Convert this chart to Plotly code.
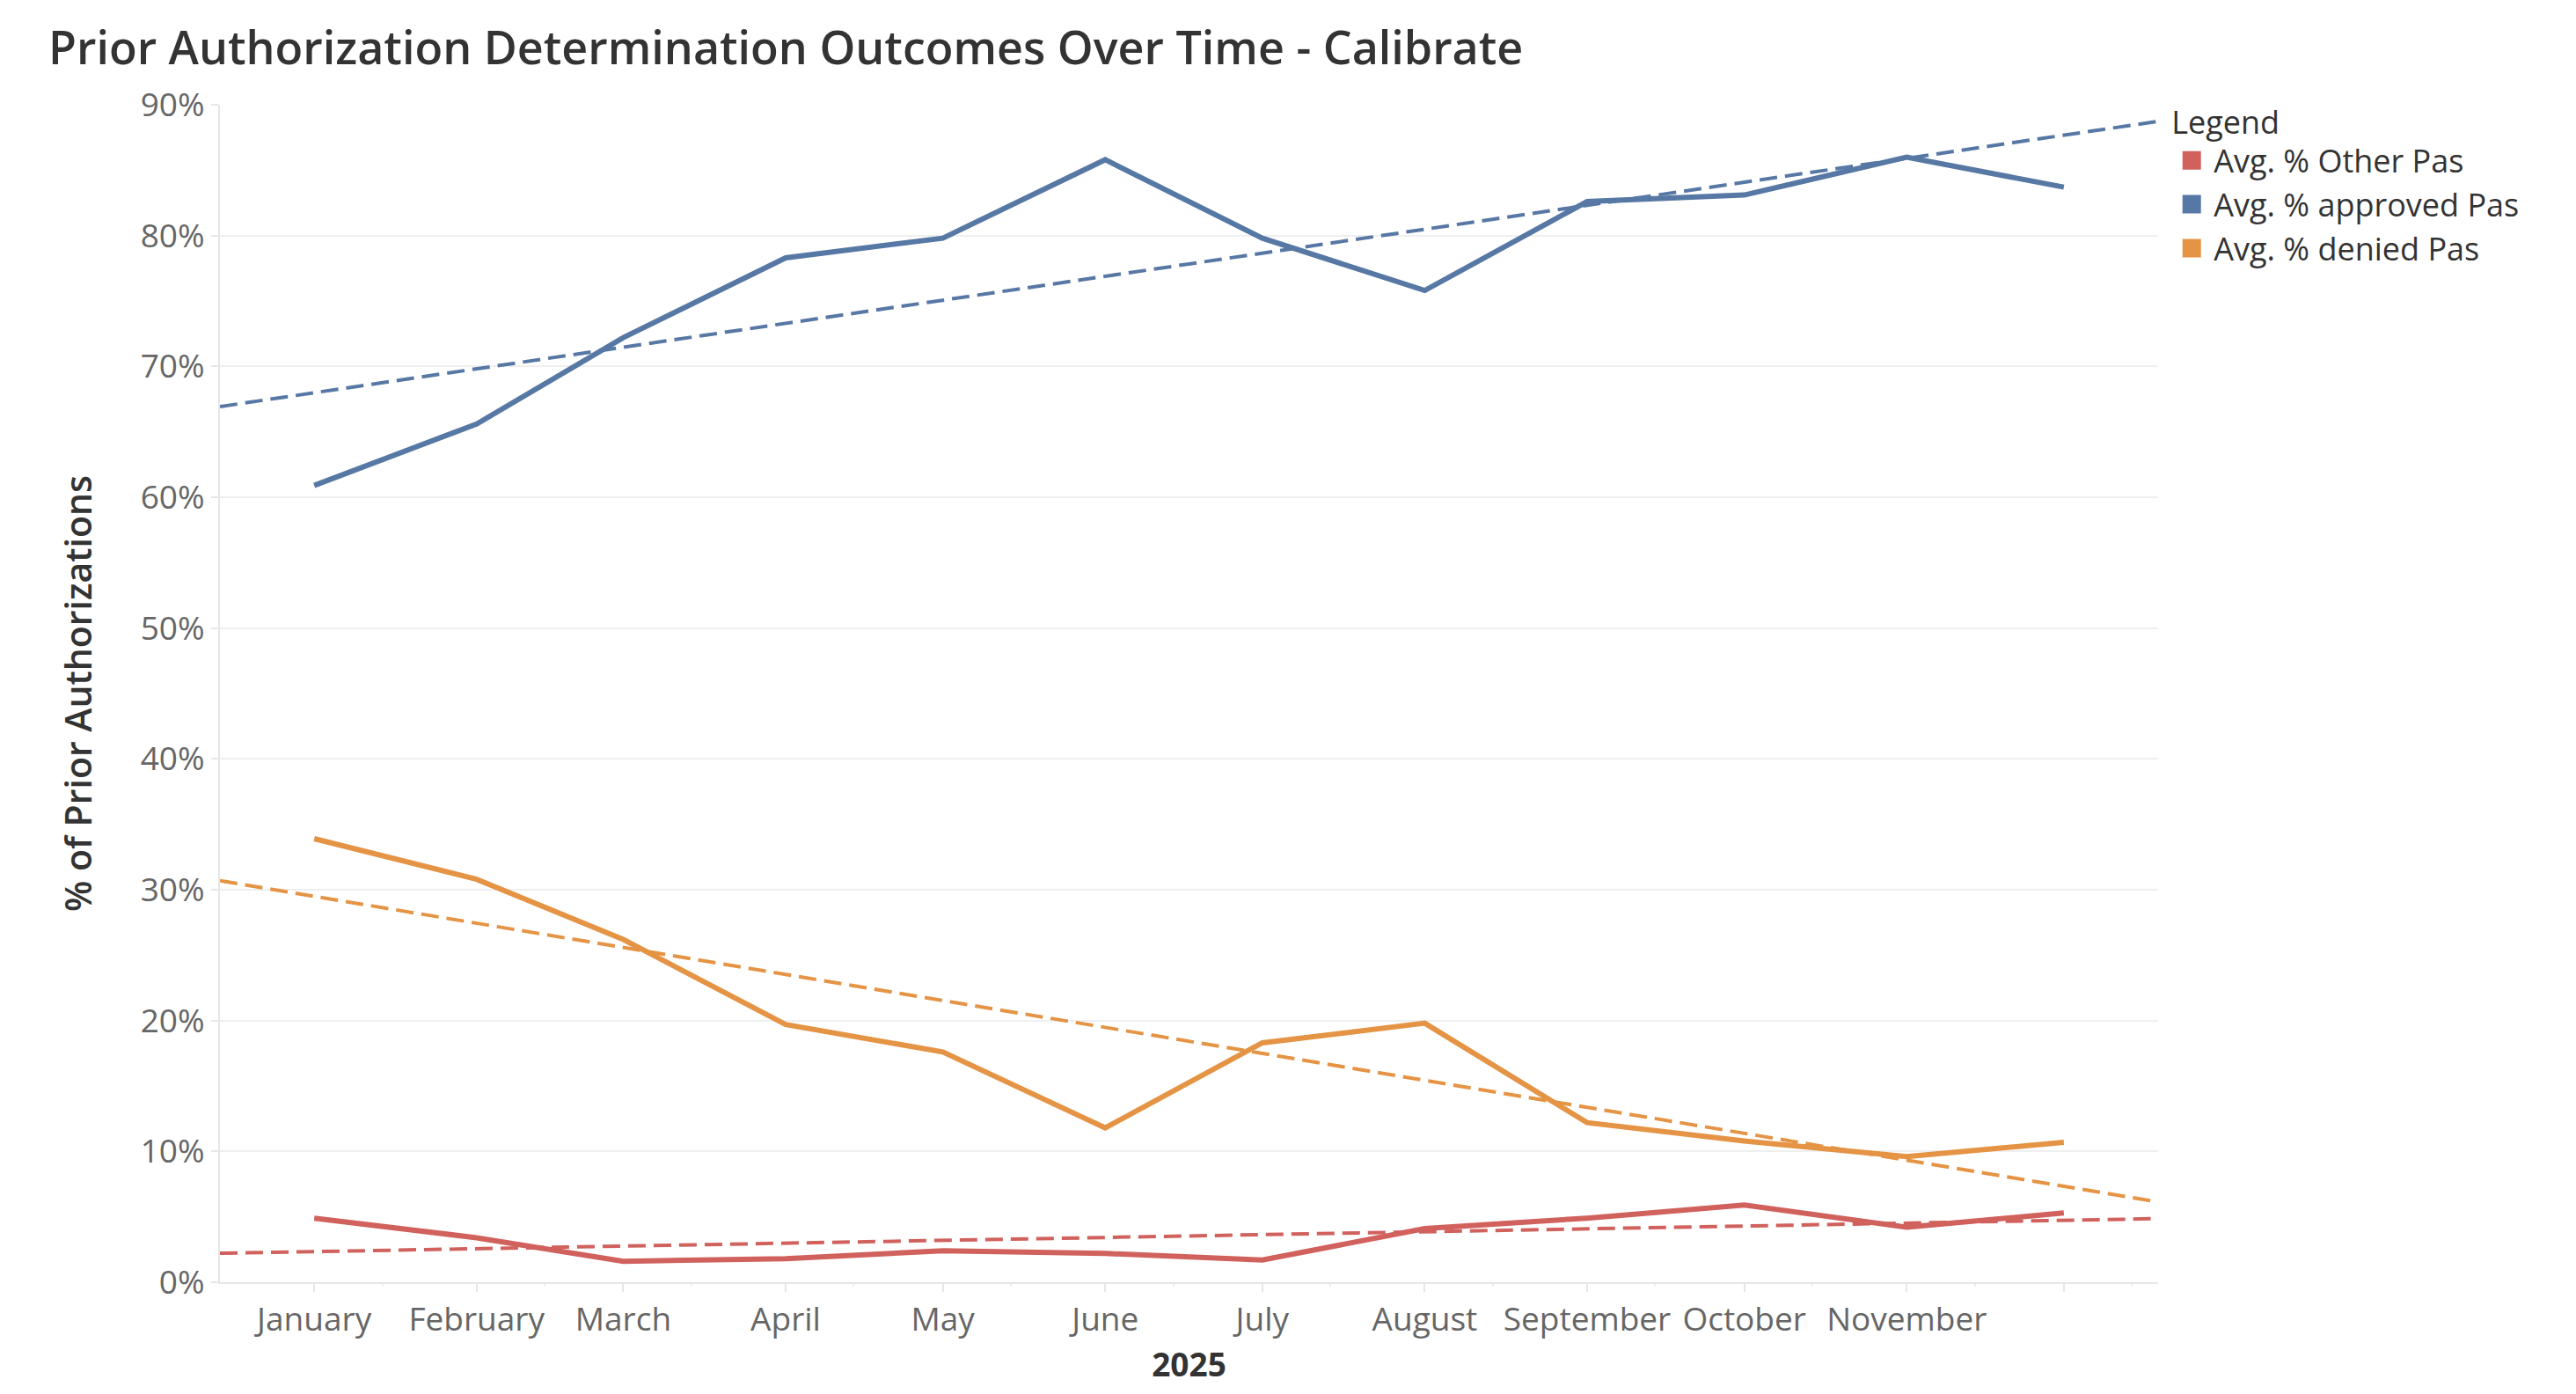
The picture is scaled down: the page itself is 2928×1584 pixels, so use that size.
import numpy as np
import pandas as pd
import plotly.graph_objects as go

# ---------------- data ----------------
month_names = ["January", "February", "March", "April", "May", "June", "July",
               "August", "September", "October", "November", ""]
month_starts = pd.date_range("2025-01-01", periods=12, freq="MS")

pct_other = [4.9, 3.4, 1.6, 1.8, 2.4, 2.2, 1.7, 4.1, 4.9, 5.9, 4.2, 5.3]
pct_approved = [60.9, 65.6, 72.2, 78.3, 79.8, 85.8, 79.8, 75.8, 82.6, 83.1, 86.0, 83.7]
pct_denied = [33.9, 30.8, 26.2, 19.7, 17.6, 11.8, 18.3, 19.8, 12.2, 10.8, 9.6, 10.7]

series_names = ["Avg. % Other Pas", "Avg. % approved Pas", "Avg. % denied Pas"]
series_values = [pct_other, pct_approved, pct_denied]
series_colors = ["#d1615d", "#5778a4", "#e49444"]

x_range = [pd.Timestamp("2024-12-14"), pd.Timestamp("2025-12-19")]
y_ticks = [0, 10, 20, 30, 40, 50, 60, 70, 80, 90]
y_tick_labels = ["0%", "10%", "20%", "30%", "40%", "50%", "60%", "70%", "80%", "90%"]

# ---------------- figure ----------------
FONT = "Open Sans"
fig = go.Figure()

day0 = pd.Timestamp("2025-01-01")
xd = np.array([(d - day0).days for d in month_starts], dtype=float)
rd = np.array([(d - day0).days for d in x_range], dtype=float)

for name, vals, col in zip(series_names, series_values, series_colors):
    # linear trend (least squares over the dates), spanning the full axis
    slope, icpt = np.polyfit(xd, np.array(vals, dtype=float), 1)
    fig.add_trace(go.Scatter(
        x=x_range, y=slope * rd + icpt, mode="lines",
        line=dict(color=col, width=4, dash="20px,9px"),
        showlegend=False, hoverinfo="skip"))

for name, vals, col in zip(series_names, series_values, series_colors):
    fig.add_trace(go.Scatter(
        x=month_starts, y=vals, mode="lines", name=name,
        line=dict(color=col, width=6), showlegend=False))

# legend-only swatches
for name, col in zip(series_names, series_colors):
    fig.add_trace(go.Scatter(
        x=[None], y=[None], mode="markers", name=name,
        marker=dict(symbol="square", size=16, color=col,
                    line=dict(color=col, width=5))))

grid = "#efefef"
fig.update_layout(
    width=2928, height=1584,
    margin=dict(l=242, r=483, t=111, b=135, autoexpand=False),
    paper_bgcolor="white", plot_bgcolor="white",
    font=dict(family=FONT, color="#333333", size=36),
    title=dict(text="Prior Authorization Determination Outcomes Over Time - Calibrate",
               font=dict(family=FONT, size=52, color="#333333", weight=600),
               x=47 / 2928, xref="container", xanchor="left",
               y=1 - 47 / 1584, yref="container", yanchor="middle"),
    legend=dict(title=dict(text="Legend", font=dict(size=36, color="#333333")),
                font=dict(size=36, color="#333333"),
                x=1.006, xanchor="left", y=1.01, yanchor="top",
                bgcolor="rgba(0,0,0,0)", itemsizing="trace", itemwidth=40,
                traceorder="normal"),
    showlegend=True,
)

fig.update_xaxes(
    type="date", range=x_range,
    tickmode="array", tickvals=month_starts, ticktext=month_names,
    ticks="outside", ticklen=9, tickwidth=2, tickcolor="#e6e6e6",
    tickfont=dict(family=FONT, size=37, color="#666666"),
    showgrid=False, zeroline=False,
    showline=True, linecolor="#e6e6e6", linewidth=2,
    minor=dict(tickmode="array",
               tickvals=[d + pd.Timedelta(days=13) for d in month_starts],
               ticks="outside", ticklen=3, tickwidth=2, tickcolor="#eeeeee",
               showgrid=False),
    title=dict(text="2025", font=dict(family=FONT, size=37, color="#333333", weight=700),
               standoff=16),
    fixedrange=True,
)
fig.update_yaxes(
    range=[0, 90], tickmode="array", tickvals=y_ticks, ticktext=y_tick_labels,
    ticks="outside", ticklen=8, tickwidth=2, tickcolor="#e6e6e6",
    tickfont=dict(family=FONT, size=37, color="#666666"),
    showgrid=True, gridcolor=grid, gridwidth=2,
    zeroline=False,
    showline=True, linecolor="#e6e6e6", linewidth=2,
    title=dict(text="% of Prior Authorizations",
               font=dict(family=FONT, size=41, color="#333333", weight=600),
               standoff=42),
    fixedrange=True,
)

fig.write_html("out.html")
